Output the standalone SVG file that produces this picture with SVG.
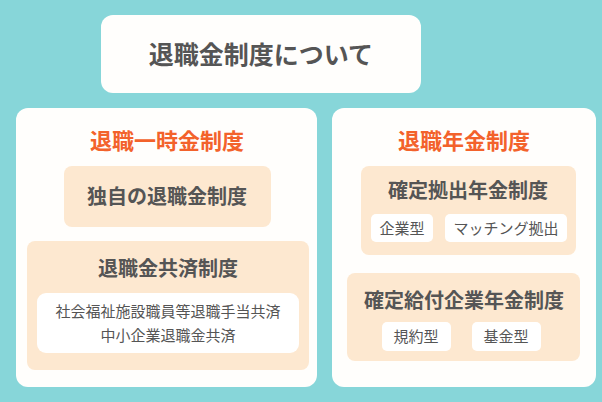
<svg xmlns="http://www.w3.org/2000/svg" width="602" height="402" viewBox="0 0 602 402">
<style>
text{font-family:"Noto Sans CJK JP","Noto Sans",sans-serif;text-anchor:middle;fill:#555555}
.panel{fill:#FFFEFC}
.box{fill:#FDE8D0}
.chip{fill:#FFFFFF}
.h1{font-size:25px;font-weight:700}
.h2{font-size:22px;font-weight:700;fill:#F3622B}
.h3{font-size:20px;font-weight:700}
.t{font-size:15px;font-weight:400}
</style>
<rect x="0" y="0" width="602" height="402" fill="#87D6D9"/>
<g id="title">
<rect x="101" y="15" width="320" height="78" rx="12" class="panel"/>
<text x="261" y="64" class="h1">退職金制度について</text>
</g>
<g id="lump-sum">
<rect x="16" y="108" width="301" height="279" rx="12" class="panel"/>
<text x="167" y="149" class="h2">退職一時金制度</text>
</g>
<g id="own">
<rect x="64" y="166" width="207" height="61" rx="8" class="box"/>
<text x="167" y="204" class="h3">独自の退職金制度</text>
</g>
<g id="mutual">
<rect x="27" y="241" width="282" height="129" rx="8" class="box"/>
<text x="168" y="276" class="h3">退職金共済制度</text>
<rect x="37" y="293" width="262" height="60" rx="9" class="chip"/>
<text x="168" y="317" class="t">社会福祉施設職員等退職手当共済</text>
<text x="168" y="341" class="t">中小企業退職金共済</text>
</g>
<g id="pension">
<rect x="332" y="108" width="264" height="279" rx="12" class="panel"/>
<text x="464" y="149" class="h2">退職年金制度</text>
</g>
<g id="dc">
<rect x="361" y="166" width="215" height="89" rx="8" class="box"/>
<text x="468" y="198" class="h3">確定拠出年金制度</text>
<rect x="371" y="214" width="62" height="28" rx="5" class="chip"/>
<text x="402" y="234" class="t">企業型</text>
<rect x="445" y="214" width="122" height="28" rx="5" class="chip"/>
<text x="506" y="234" class="t">マッチング拠出</text>
</g>
<g id="db">
<rect x="347" y="273" width="233" height="88" rx="8" class="box"/>
<text x="464" y="308" class="h3">確定給付企業年金制度</text>
<rect x="382" y="322" width="69" height="29" rx="5" class="chip"/>
<text x="416" y="342" class="t">規約型</text>
<rect x="472" y="322" width="69" height="29" rx="5" class="chip"/>
<text x="506" y="342" class="t">基金型</text>
</g>
<g id="connectors"/>
</svg>
